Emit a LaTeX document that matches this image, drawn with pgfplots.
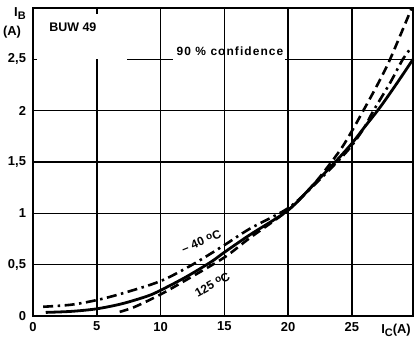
\documentclass[border=0pt]{standalone}
\usepackage{pgfplots}
\pgfplotsset{compat=1.18}
\usetikzlibrary{calc}
\usepackage{fontspec}
\setmainfont{Liberation Sans}
\newcommand{\dg}{\raisebox{2.5bp}{\fontsize{10}{12}\selectfont o}}
\begin{document}
\begin{tikzpicture}
\begin{axis}[name=ax, scale only axis, width=380bp, height=308bp,
  xmin=0, xmax=29.8, ymin=0, ymax=3,
  axis line style={line width=2bp},
  xtick={0,5,10,15,20,25}, xticklabels={0,5,10,15,20,25},
  ytick={0,0.5,1,1.5,2,2.5}, yticklabels={0,{0,5},1,{1,5},2,{2,5}},
  major tick length=0pt,
  tick label style={font=\fontsize{13}{15}\selectfont\bfseries},
  xticklabel style={yshift=-2.5bp},
  yticklabel style={xshift=-3.5bp},
  clip=false]
% grid
\draw[line width=1.5bp] (axis cs:10,0) -- (axis cs:10,3);
\draw[line width=1.5bp] (axis cs:15,0) -- (axis cs:15,3);
\draw[line width=1.5bp] (axis cs:20,0) -- (axis cs:20,3);
\draw[line width=1.5bp] (axis cs:25,0) -- (axis cs:25,3);
\draw[line width=1.5bp] (axis cs:5,0) -- (axis cs:5,2.5);
\draw[line width=1.5bp] (axis cs:5,3) -- (axis cs:5,2.94);
\draw[line width=1.5bp] (axis cs:0,0.5) -- (axis cs:29.8,0.5);
\draw[line width=1.5bp] (axis cs:0,1) -- (axis cs:29.8,1);
\draw[line width=1.5bp] (axis cs:0,1.5) -- (axis cs:29.8,1.5);
\draw[line width=1.5bp] (axis cs:0,2) -- (axis cs:29.8,2);
\draw[line width=1.5bp] (axis cs:0,2.5) -- (axis cs:0.35,2.5);
\draw[line width=1.5bp] (axis cs:7.4,2.5) -- (axis cs:11,2.5);
\draw[line width=1.5bp] (axis cs:19.8,2.5) -- (axis cs:29.8,2.5);
% solid
\addplot[black, line width=2.8bp, smooth] coordinates {
(1,0.035) (3,0.045) (5,0.07) (7,0.12) (9,0.195) (10,0.25) (12,0.38) (14,0.53)
(15,0.62) (17,0.79) (20,1.03) (22,1.28) (23.7,1.5) (25,1.68) (26,1.84) (27.2,2.03)
(28.5,2.26) (29.8,2.5)};
% dash-dot -40 C
\addplot[black, line width=2.6bp, smooth, dash pattern=on 10bp off 4.5bp on 2.5bp off 4.5bp] coordinates {
(0.8,0.09) (3,0.11) (5,0.155) (7,0.22) (10,0.34) (12.5,0.5) (15,0.69) (17,0.85)
(20,1.05) (22,1.27) (24,1.52) (25,1.66) (26,1.84) (26.7,2.0) (28,2.27) (29,2.5) (29.7,2.62)};
% dashed 125 C
\addplot[black, line width=2.6bp, smooth, dash pattern=on 9bp off 5bp] coordinates {
(6.8,0.04) (8,0.09) (10,0.21) (12,0.35) (15,0.57) (17,0.76) (20,1.03) (22,1.28)
(24,1.6) (25,1.8) (25.9,2.0) (27,2.25) (28,2.5) (29.7,3.0)};
% labels
\node[font=\fontsize{12.5}{14}\selectfont\bfseries] at (axis cs:3.13,2.81) {BUW 49};
\node[font=\fontsize{12}{14}\selectfont\bfseries\addfontfeature{LetterSpace=9}, anchor=base, inner sep=0pt] at (axis cs:15.45,2.535) {90 \% confidence};
\node[font=\fontsize{12}{14}\selectfont\bfseries, rotate=22, inner sep=0pt] at (axis cs:13.2,0.726) {-- 40 \dg C};
\node[font=\fontsize{12}{14}\selectfont\bfseries, rotate=29, inner sep=0pt] at (axis cs:14.07,0.306) {125 \dg C};
\end{axis}
\node[font=\fontsize{13}{15}\selectfont\bfseries, anchor=north west, inner sep=0pt] at ($(ax.north west)+(-19bp,1bp)$) {I\raisebox{-3bp}{\fontsize{11}{12}\selectfont B}};
\node[font=\fontsize{13}{15}\selectfont\bfseries, inner sep=0pt] at ($(ax.north west)+(-21bp,-24.5bp)$) {(A)};
\node[font=\fontsize{13}{15}\selectfont\bfseries, inner sep=0pt] at ($(ax.south east)+(-17bp,-14bp)$) {I\raisebox{-3bp}{\fontsize{11}{12}\selectfont C}(A)};
\pgfresetboundingbox
\path[use as bounding box] ($(ax.south west)+(-33bp,-27bp)$) rectangle ($(ax.north east)+(4bp,8bp)$);
\end{tikzpicture}
\end{document}
